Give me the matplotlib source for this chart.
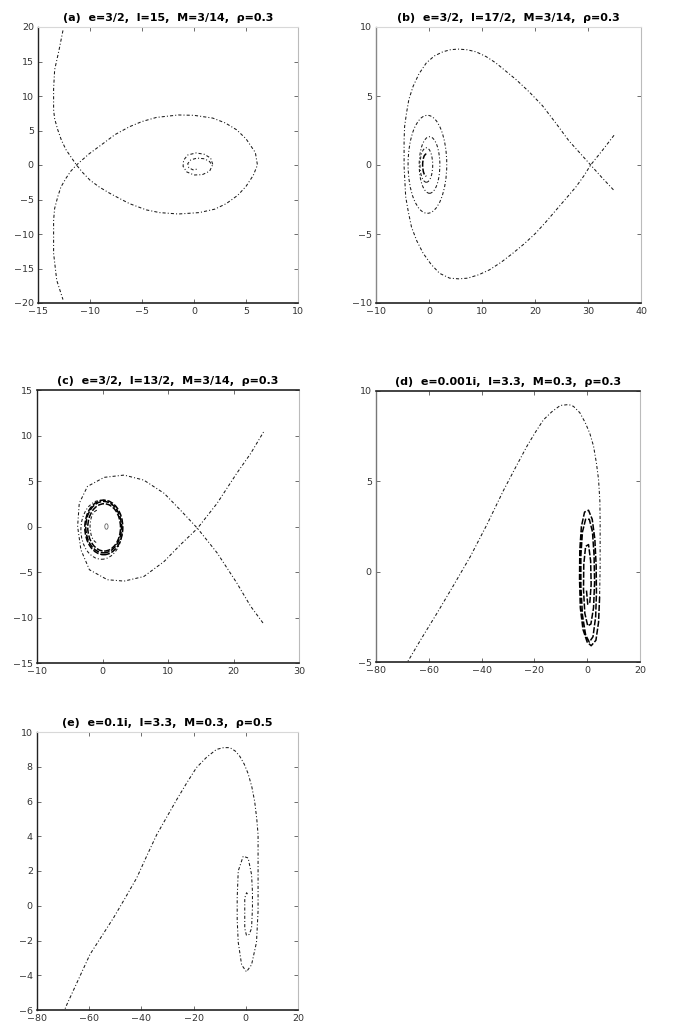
import matplotlib
matplotlib.use("Agg")
import matplotlib.pyplot as plt
from matplotlib.patches import Ellipse, Arc

# ---------------- data ----------------
titles = [
    "(a)  e=3/2,  l=15,  M=3/14,  \u03c1=0.3",
    "(b)  e=3/2,  l=17/2,  M=3/14,  \u03c1=0.3",
    "(c)  e=3/2,  l=13/2,  M=3/14,  \u03c1=0.3",
    "(d)  e=0.001i,  l=3.3,  M=0.3,  \u03c1=0.3",
    "(e)  e=0.1i,  l=3.3,  M=0.3,  \u03c1=0.5",
]

# panel (a)
a_x = [-12.6, -13.0, -13.4, -13.5, -13.5, -13.4, -13.1, -12.75, -12.3, -11.8, -11.3, -10.7, -10.0, -9.1,
       -8.1, -7.1, -6.2, -4.6, -3.3, -1.5, 0.5, 2.0, 3.1, 4.2, 5.0, 5.7, 6.1, 5.9, 5.0, 4.1, 3.0, 1.8,
       0.0, -1.5, -3.6, -5.0, -6.2, -7.6, -8.75, -10.1, -11.3, -11.85, -12.3, -12.8, -13.1, -13.4, -13.5,
       -13.5, -13.5, -13.2, -12.6]
a_y = [19.5, 16.5, 13.8, 11.0, 8.0, 6.7, 5.1, 3.6, 2.2, 1.1, 0.0, -1.1, -2.2, -3.2,
       -4.1, -4.9, -5.6, -6.5, -6.9, -7.1, -6.9, -6.4, -5.6, -4.4, -3.1, -1.5, 0.0, 1.8, 3.8, 5.1, 6.1, 6.8,
       7.2, 7.25, 6.9, 6.3, 5.55, 4.4, 3.1, 1.6, 0.0, -0.9, -1.9, -3.2, -4.6, -6.3, -8.0,
       -11.0, -12.8, -16.7, -19.5]
a_sx = [1.8, 1.6, 1.0, 0.2, -0.6, -1.0, -1.05, -0.7, 0.0, 0.8, 1.5, 1.75, 1.5, 1.0, 0.3, -0.3, -0.6,
        -0.5, -0.1, 0.3]
a_sy = [0.1, 1.0, 1.55, 1.75, 1.45, 0.7, -0.2, -1.0, -1.45, -1.4, -0.9, -0.1, 0.5, 0.9, 1.0, 0.75, 0.2,
        -0.4, -0.7, -0.6]

# panel (b)
b_x = [34.8, 32.6, 30.5, 28.4, 26.4, 24.0, 21.4, 18.9, 16.4, 14.5, 12.6, 10.8, 8.9, 7.2, 5.45, 4.0,
       2.6, 1.0, -0.5, -1.9, -3.0, -3.8, -4.25, -4.6, -4.7, -4.7, -4.4, -3.9, -3.3, -2.3, -1.1, 0.4,
       2.0, 3.9, 5.6, 7.3, 9.4, 11.4, 13.6, 15.8, 18.0, 20.1, 22.0, 23.9, 25.8, 27.7, 29.2, 30.5,
       32.8, 35.0]
b_y = [-1.8, -0.9, 0.0, 0.9, 1.75, 3.0, 4.3, 5.3, 6.2, 6.8, 7.4, 7.85, 8.2, 8.35, 8.4, 8.35,
       8.2, 7.9, 7.4, 6.6, 5.7, 4.75, 3.75, 2.8, 1.8, -0.1, -2.3, -3.4, -4.5, -5.5, -6.4, -7.2,
       -7.85, -8.2, -8.25, -8.2, -7.95, -7.6, -7.05, -6.4, -5.7, -4.95, -4.15, -3.3, -2.45, -1.6, -0.8, 0.0,
       1.1, 2.2]
b_ring_cx = [-0.3, 0.1, -0.5]
b_ring_cy = [0.05, 0.0, 0.0]
b_ring_w = [7.3, 3.9, 2.4]
b_ring_h = [7.1, 4.1, 2.5]
b_arc = (-0.5, 0.0, 1.4, 1.6, 90, 270)   # cx, cy, w, h, theta1, theta2

# panel (c)
c_x = [24.5, 22.6, 20.5, 17.5, 14.5, 11.9, 9.4, 6.3, 3.3, 0.25, -2.3, -3.55, -3.8, -3.3, -2.0, 0.75,
       3.3, 6.3, 9.4, 11.9, 14.5, 17.5, 20.5, 22.6, 24.6]
c_y = [-10.6, -8.75, -6.2, -2.9, -0.2, 1.8, 3.65, 5.1, 5.65, 5.4, 4.4, 2.55, 0.0, -2.55, -4.75, -5.85,
       -6.0, -5.5, -3.85, -2.0, -0.2, 2.55, 5.85, 8.0, 10.4]
c_ring_cx = [-0.15, 0.17, 0.25, 0.2]
c_ring_cy = [-0.35, -0.07, -0.1, -0.1]
c_ring_w = [6.3, 5.45, 5.0, 5.8]
c_ring_h = [6.5, 5.65, 5.2, 6.0]
c_arc = (-0.7, 0.0, 2.4, 3.6, 95, 265)
c_dot = (0.6, 0.0, 0.5, 0.6)

# panel (d)
d_x = [-70.5, -63.2, -56.9, -50.6, -44.3, -38.0, -31.7, -27.2, -22.8, -19.7, -16.6, -13.4, -10.2, -7.0,
       -5.2, -2.8, -0.75, 1.0, 2.4, 3.5, 4.3, 4.8, 4.9, 4.9, 4.7]
d_y = [-5.6, -3.8, -2.3, -0.75, 0.83, 2.6, 4.5, 5.75, 6.95, 7.7, 8.4, 8.85, 9.2, 9.25,
       9.15, 8.8, 8.25, 7.65, 6.95, 6.0, 5.1, 3.9, 2.7, 0.3, -1.4]
d_sx = [4.7, 4.3, 3.3, 1.5, 0.0, -1.6, -2.6, -2.9, -2.8, -2.2, -1.0, 0.5, 1.9, 2.9, 3.4, 3.5, 3.2,
        2.2, 0.8, -0.6, -1.8, -2.4, -2.4, -1.8, -0.6, 0.8, 2.0, 2.6, 2.8, 2.4, 1.4, 0.2, -0.9, -1.4,
        -1.3, -0.6, 0.5, 1.3, 1.5, 1.0, 0.2, -0.3]
d_sy = [-1.4, -2.8, -3.8, -4.1, -3.9, -3.2, -2.0, -0.4, 1.2, 2.5, 3.3, 3.4, 2.9, 1.8, 0.3, -1.2, -2.5,
        -3.6, -3.9, -3.5, -2.4, -0.8, 0.9, 2.2, 2.9, 2.9, 2.2, 0.9, -0.6, -2.0, -2.9, -3.0, -2.3, -1.0,
        0.4, 1.4, 1.5, 0.6, -0.7, -1.7, -1.8, -1.0]

# panel (e)
e_x = [-70.0, -68.6, -64.0, -59.7, -55.2, -50.7, -46.2, -41.8, -38.0, -34.1, -30.3, -26.5, -22.7, -18.9,
       -15.0, -11.2, -8.5, -6.1, -4.0, -2.3, -0.6, 0.9, 2.3, 3.4, 4.2, 4.7, 4.7, 4.7, 4.7, 4.1, 2.2,
       0.25, -1.6, -2.9, -3.3, -3.3, -2.9, -1.0, 0.9, 2.2, 2.55, 2.55, 2.2, 1.3, 0.25, -0.4, -0.4, -0.4,
       0.3, 1.0]
e_y = [-6.2, -5.7, -4.2, -2.8, -1.75, -0.7, 0.45, 1.6, 2.85, 4.1, 5.1, 6.1, 7.05, 7.95,
       8.55, 9.0, 9.1, 9.1, 8.9, 8.6, 8.15, 7.6, 6.85, 6.0, 5.0, 4.1, 3.0, 1.8, -0.3, -2.1, -3.4,
       -3.8, -3.4, -2.1, -0.8, 0.45, 2.0, 2.85, 2.75, 1.8, 0.8, -0.13, -1.3, -1.65, -1.7, -1.3, -0.4, 0.45,
       0.75, 0.6]

# axis limits / ticks
a_xlim, a_ylim = (-15, 10), (-20, 20)
a_xt, a_yt = [-15, -10, -5, 0, 5, 10], [-20, -15, -10, -5, 0, 5, 10, 15, 20]
b_xlim, b_ylim = (-10, 40), (-10, 10)
b_xt, b_yt = [-10, 0, 10, 20, 30, 40], [-10, -5, 0, 5, 10]
c_xlim, c_ylim = (-10, 30), (-15, 15)
c_xt, c_yt = [-10, 0, 10, 20, 30], [-15, -10, -5, 0, 5, 10, 15]
d_xlim, d_ylim = (-80, 20), (-5, 10)
d_xt, d_yt = [-80, -60, -40, -20, 0, 20], [-5, 0, 5, 10]
e_xlim, e_ylim = (-80, 20), (-6, 10)
e_xt, e_yt = [-80, -60, -40, -20, 0, 20], [-6, -4, -2, 0, 2, 4, 6, 8, 10]

# ---------------- drawing ----------------
plt.rcParams['font.family'] = ['DejaVu Sans']
fig = plt.figure(figsize=(6.84, 10.34), dpi=100)

W, H = 684.0, 1034.0
def ax_at(x0, y0, x1, y1):
    return fig.add_axes([x0 / W, 1 - y1 / H, (x1 - x0) / W, (y1 - y0) / H])

axa = ax_at(38, 27, 298, 303)
axb = ax_at(376, 27, 641, 303)
axc = ax_at(37, 390, 299, 663)
axd = ax_at(376, 391, 640, 662)
axe = ax_at(37, 732, 298, 1010)

DOT = dict(color='#1a1a1a', lw=0.75, ls=(0, (3.0, 2.0, 1.0, 2.0)))
DARK = dict(color='black', lw=1.1, ls=(0, (4.0, 1.2)))

def style(ax, title, xlim, ylim, xt, yt, top_dark=False, left_col='#222'):
    ax.set_xlim(*xlim)
    ax.set_ylim(*ylim)
    ax.set_xticks(xt)
    ax.set_yticks(yt)
    ax.tick_params(direction='in', length=3, width=0.6, labelsize=6.8,
                   top=True, right=True, pad=3, colors='#555')
    ax.tick_params(labelcolor='#333')
    for s in ax.spines.values():
        s.set_linewidth(0.8)
    ax.spines['bottom'].set_color('#222')
    ax.spines['bottom'].set_linewidth(1.2)
    ax.spines['left'].set_color(left_col)
    ax.spines['left'].set_linewidth(1.0)
    ax.spines['top'].set_color('#222' if top_dark else '#d8d8d8')
    if top_dark:
        ax.spines['top'].set_linewidth(1.2)
    ax.spines['right'].set_color('#bbbbbb')
    ax.set_title(title, fontsize=8, fontweight='bold', pad=4)

# (a)
axa.plot(a_x, a_y, **DOT)
axa.plot(a_sx, a_sy, **DOT)
style(axa, titles[0], a_xlim, a_ylim, a_xt, a_yt)

# (b)
axb.plot(b_x, b_y, **DOT)
for cx, cy, w, h in zip(b_ring_cx, b_ring_cy, b_ring_w, b_ring_h):
    axb.add_patch(Ellipse((cx, cy), w, h, fill=False, **DOT))
axb.add_patch(Arc((b_arc[0], b_arc[1]), b_arc[2], b_arc[3], theta1=b_arc[4], theta2=b_arc[5], **DARK))
style(axb, titles[1], b_xlim, b_ylim, b_xt, b_yt, left_col='#888')

# (c)
axc.plot(c_x, c_y, **DOT)
for i, (cx, cy, w, h) in enumerate(zip(c_ring_cx, c_ring_cy, c_ring_w, c_ring_h)):
    st = DOT if i == 0 else DARK
    axc.add_patch(Ellipse((cx, cy), w, h, fill=False, **st))
axc.add_patch(Arc((c_arc[0], c_arc[1]), c_arc[2], c_arc[3], theta1=c_arc[4], theta2=c_arc[5], **DOT))
axc.add_patch(Ellipse((c_dot[0], c_dot[1]), c_dot[2], c_dot[3], fill=False, color='#666', lw=0.6))
style(axc, titles[2], c_xlim, c_ylim, c_xt, c_yt, top_dark=True)

# (d)
axd.plot(d_x, d_y, **DOT)
axd.plot(d_sx, d_sy, **DARK)
style(axd, titles[3], d_xlim, d_ylim, d_xt, d_yt, top_dark=True, left_col='#777')

# (e)
axe.plot(e_x, e_y, **DOT)
style(axe, titles[4], e_xlim, e_ylim, e_xt, e_yt)

fig.savefig("out.png", dpi=100)
